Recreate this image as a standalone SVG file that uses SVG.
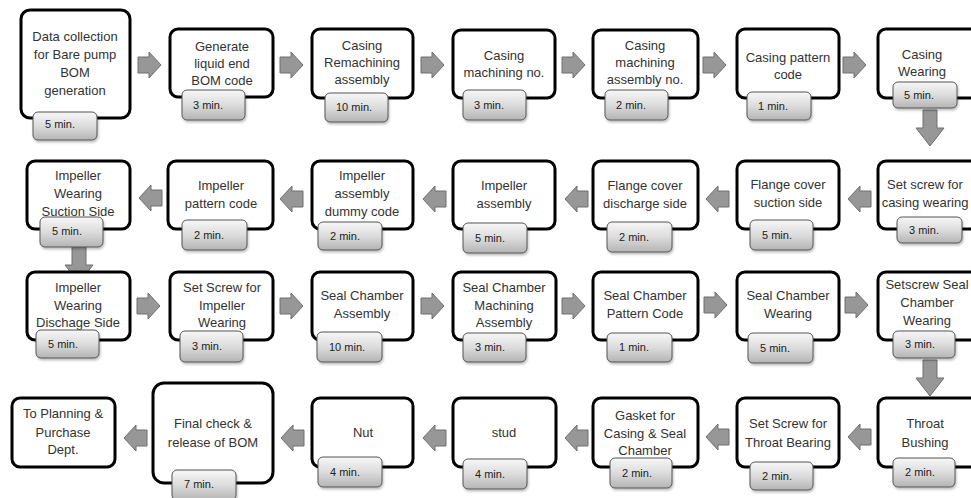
<svg xmlns="http://www.w3.org/2000/svg" xmlns:xlink="http://www.w3.org/1999/xlink" width="971" height="498" viewBox="0 0 971 498">
<defs>
<linearGradient id="tg" x1="0" y1="0" x2="0" y2="1">
<stop offset="0" stop-color="#f7f7f7"/>
<stop offset="0.5" stop-color="#dcdcdc"/>
<stop offset="1" stop-color="#b4b4b4"/>
</linearGradient>
<filter id="sh" x="-10%" y="-10%" width="130%" height="140%">
<feDropShadow dx="1" dy="2" stdDeviation="1.2" flood-color="#000" flood-opacity="0.25"/>
</filter>
<path id="ra" d="M0,-8 H11 V-13 L23,0 L11,13 V8 H0 Z"/>
<path id="la" d="M23,-8 H12 V-13 L0,0 L12,13 V8 H23 Z"/>
<path id="da" d="M-7,0 H7 V18 H14 L0,36 L-14,18 H-7 Z"/>
</defs>
<style>
.box{fill:#fff;stroke:#000;stroke-width:3}
.tag{fill:url(#tg);stroke:#555;stroke-width:1;filter:url(#sh)}
.t{font-family:"Liberation Sans",Arial,sans-serif;font-size:13px;fill:#333;text-anchor:middle}
.m{font-family:"Liberation Sans",Arial,sans-serif;font-size:11px;fill:#222}
.arr{fill:#979797;stroke:#6e6e6e;stroke-width:1}
</style>
<rect width="971" height="498" fill="#fff"/>

<g id="connectors">
<use href="#ra" class="arr" x="138" y="65"/>
<use href="#ra" class="arr" x="280" y="65"/>
<use href="#ra" class="arr" x="421" y="65"/>
<use href="#ra" class="arr" x="562" y="65"/>
<use href="#ra" class="arr" x="703" y="65"/>
<use href="#ra" class="arr" x="843" y="65"/>
<use href="#da" class="arr" x="930" y="110"/>
<use href="#la" class="arr" x="848" y="199"/>
<use href="#la" class="arr" x="706" y="199"/>
<use href="#la" class="arr" x="565" y="199"/>
<use href="#la" class="arr" x="423" y="199"/>
<use href="#la" class="arr" x="280" y="199"/>
<use href="#la" class="arr" x="139" y="198"/>
<use href="#da" class="arr" x="79" y="247"/>
<use href="#ra" class="arr" x="137" y="306"/>
<use href="#ra" class="arr" x="280" y="306"/>
<use href="#ra" class="arr" x="421" y="306"/>
<use href="#ra" class="arr" x="562" y="306"/>
<use href="#ra" class="arr" x="704" y="305"/>
<use href="#ra" class="arr" x="845" y="305"/>
<use href="#da" class="arr" x="930" y="360"/>
<use href="#la" class="arr" x="848" y="437"/>
<use href="#la" class="arr" x="706" y="437"/>
<use href="#la" class="arr" x="565" y="438"/>
<use href="#la" class="arr" x="423" y="438"/>
<use href="#la" class="arr" x="281" y="438"/>
<use href="#la" class="arr" x="124" y="438"/>
</g>

<g id="n1"><rect class="box" x="21" y="10" width="109" height="108" rx="9"/>
<text class="t" x="75" y="41">Data collection</text><text class="t" x="75" y="59">for Bare pump</text><text class="t" x="75" y="77">BOM</text><text class="t" x="75" y="95">generation</text>
<rect class="tag" x="33" y="112" width="64" height="28" rx="5"/><text class="m" x="45" y="128">5 min.</text></g>

<g id="n2"><rect class="box" x="170" y="29" width="103" height="68" rx="8"/>
<text class="t" x="222" y="51">Generate</text><text class="t" x="222" y="68">liquid end</text><text class="t" x="222" y="85">BOM code</text>
<rect class="tag" x="182" y="90" width="63" height="30" rx="5"/><text class="m" x="193" y="109">3 min.</text></g>

<g id="n3"><rect class="box" x="312" y="29" width="101" height="69" rx="8"/>
<text class="t" x="362" y="50">Casing</text><text class="t" x="362" y="67">Remachining</text><text class="t" x="362" y="84">assembly</text>
<rect class="tag" x="325" y="93" width="63" height="29" rx="5"/><text class="m" x="336" y="111">10 min.</text></g>

<g id="n4"><rect class="box" x="453" y="30" width="102" height="68" rx="8"/>
<text class="t" x="504" y="60">Casing</text><text class="t" x="504" y="77">machining no.</text>
<rect class="tag" x="463" y="90" width="63" height="30" rx="5"/><text class="m" x="474" y="109">3 min.</text></g>

<g id="n5"><rect class="box" x="593" y="30" width="105" height="68" rx="8"/>
<text class="t" x="645" y="50">Casing</text><text class="t" x="645" y="67">machining</text><text class="t" x="645" y="84">assembly no.</text>
<rect class="tag" x="605" y="90" width="63" height="30" rx="5"/><text class="m" x="616" y="109">2 min.</text></g>

<g id="n6"><rect class="box" x="737" y="29" width="102" height="69" rx="8"/>
<text class="t" x="788" y="62">Casing pattern</text><text class="t" x="788" y="79">code</text>
<rect class="tag" x="747" y="92" width="64" height="28" rx="5"/><text class="m" x="758" y="110">1 min.</text></g>

<g id="n7"><rect class="box" x="878" y="29" width="100" height="69" rx="8"/>
<text class="t" x="922" y="59">Casing</text><text class="t" x="922" y="76">Wearing</text>
<rect class="tag" x="893" y="82" width="64" height="26" rx="5"/><text class="m" x="904" y="99">5 min.</text></g>

<g id="n8"><rect class="box" x="27" y="161" width="103" height="68" rx="8"/>
<text class="t" x="78" y="180">Impeller</text><text class="t" x="78" y="198">Wearing</text><text class="t" x="78" y="216">Suction Side</text>
<rect class="tag" x="40" y="217" width="63" height="30" rx="5"/><text class="m" x="52" y="235">5 min.</text></g>

<g id="n9"><rect class="box" x="168" y="161" width="105" height="68" rx="8"/>
<text class="t" x="221" y="190">Impeller</text><text class="t" x="221" y="208">pattern code</text>
<rect class="tag" x="182" y="220" width="65" height="30" rx="5"/><text class="m" x="194" y="239">2 min.</text></g>

<g id="n10"><rect class="box" x="312" y="161" width="101" height="68" rx="8"/>
<text class="t" x="362" y="180">Impeller</text><text class="t" x="362" y="198">assembly</text><text class="t" x="362" y="216">dummy code</text>
<rect class="tag" x="318" y="222" width="64" height="28" rx="5"/><text class="m" x="330" y="240">2 min.</text></g>

<g id="n11"><rect class="box" x="453" y="161" width="102" height="68" rx="8"/>
<text class="t" x="504" y="190">Impeller</text><text class="t" x="504" y="208">assembly</text>
<rect class="tag" x="463" y="223" width="64" height="30" rx="5"/><text class="m" x="475" y="242">5 min.</text></g>

<g id="n12"><rect class="box" x="593" y="161" width="105" height="68" rx="8"/>
<text class="t" x="645" y="190">Flange cover</text><text class="t" x="645" y="208">discharge side</text>
<rect class="tag" x="607" y="222" width="65" height="30" rx="5"/><text class="m" x="619" y="241">2 min.</text></g>

<g id="n13"><rect class="box" x="737" y="161" width="102" height="68" rx="8"/>
<text class="t" x="788" y="189">Flange  cover</text><text class="t" x="788" y="207">suction side</text>
<rect class="tag" x="750" y="220" width="63" height="30" rx="5"/><text class="m" x="762" y="239">5 min.</text></g>

<g id="n14"><rect class="box" x="878" y="161" width="100" height="68" rx="8"/>
<text class="t" x="925" y="189">Set screw for</text><text class="t" x="925" y="207">casing wearing</text>
<rect class="tag" x="897" y="217" width="65" height="26" rx="5"/><text class="m" x="909" y="234">3 min.</text></g>

<g id="n15"><rect class="box" x="27" y="272" width="103" height="68" rx="8"/>
<text class="t" x="78" y="292">Impeller</text><text class="t" x="78" y="310">Wearing</text><text class="t" x="78" y="327">Dischage Side</text>
<rect class="tag" x="36" y="330" width="63" height="28" rx="5"/><text class="m" x="48" y="348">5 min.</text></g>

<g id="n16"><rect class="box" x="170" y="272" width="103" height="68" rx="8"/>
<text class="t" x="222" y="292">Set Screw for</text><text class="t" x="222" y="310">Impeller</text><text class="t" x="222" y="327">Wearing</text>
<rect class="tag" x="180" y="331" width="63" height="31" rx="5"/><text class="m" x="192" y="350">3 min.</text></g>

<g id="n17"><rect class="box" x="312" y="272" width="101" height="68" rx="8"/>
<text class="t" x="362" y="300">Seal Chamber</text><text class="t" x="362" y="318">Assembly</text>
<rect class="tag" x="317" y="332" width="65" height="30" rx="5"/><text class="m" x="329" y="351">10 min.</text></g>

<g id="n18"><rect class="box" x="453" y="272" width="103" height="68" rx="8"/>
<text class="t" x="504" y="292">Seal Chamber</text><text class="t" x="504" y="310">Machining</text><text class="t" x="504" y="327">Assembly</text>
<rect class="tag" x="463" y="333" width="63" height="29" rx="5"/><text class="m" x="475" y="351">3 min.</text></g>

<g id="n19"><rect class="box" x="593" y="272" width="105" height="68" rx="8"/>
<text class="t" x="645" y="300">Seal Chamber</text><text class="t" x="645" y="318">Pattern Code</text>
<rect class="tag" x="607" y="333" width="65" height="29" rx="5"/><text class="m" x="619" y="351">1 min.</text></g>

<g id="n20"><rect class="box" x="737" y="272" width="102" height="68" rx="8"/>
<text class="t" x="788" y="300">Seal Chamber</text><text class="t" x="788" y="318">Wearing</text>
<rect class="tag" x="748" y="333" width="65" height="30" rx="5"/><text class="m" x="760" y="352">5 min.</text></g>

<g id="n21"><rect class="box" x="878" y="272" width="100" height="68" rx="8"/>
<text class="t" x="927" y="289">Setscrew Seal</text><text class="t" x="927" y="307">Chamber</text><text class="t" x="927" y="325">Wearing</text>
<rect class="tag" x="893" y="331" width="62" height="27" rx="5"/><text class="m" x="905" y="348">3 min.</text></g>

<g id="n22"><rect class="box" x="878" y="398" width="100" height="69" rx="8"/>
<text class="t" x="925" y="428">Throat</text><text class="t" x="925" y="447">Bushing</text>
<rect class="tag" x="893" y="458" width="62" height="29" rx="5"/><text class="m" x="905" y="476">2 min.</text></g>

<g id="n23"><rect class="box" x="737" y="398" width="102" height="69" rx="8"/>
<text class="t" x="788" y="428">Set Screw for</text><text class="t" x="788" y="447">Throat Bearing</text>
<rect class="tag" x="750" y="462" width="63" height="28" rx="5"/><text class="m" x="762" y="480">2 min.</text></g>

<g id="n24"><rect class="box" x="593" y="398" width="105" height="69" rx="8"/>
<text class="t" x="645" y="420">Gasket for</text><text class="t" x="645" y="438">Casing &amp; Seal</text><text class="t" x="645" y="455">Chamber</text>
<rect class="tag" x="610" y="458" width="62" height="30" rx="5"/><text class="m" x="622" y="477">2 min.</text></g>

<g id="n25"><rect class="box" x="453" y="398" width="103" height="69" rx="8"/>
<text class="t" x="504" y="437">stud</text>
<rect class="tag" x="463" y="459" width="64" height="30" rx="5"/><text class="m" x="475" y="478">4 min.</text></g>

<g id="n26"><rect class="box" x="312" y="398" width="101" height="69" rx="8"/>
<text class="t" x="363" y="437">Nut</text>
<rect class="tag" x="318" y="457" width="64" height="30" rx="5"/><text class="m" x="330" y="476">4 min.</text></g>

<g id="n27"><rect class="box" x="153" y="383" width="120" height="100" rx="11"/>
<text class="t" x="213" y="428">Final check &amp;</text><text class="t" x="213" y="447">release of BOM</text>
<rect class="tag" x="172" y="470" width="64" height="30" rx="5"/><text class="m" x="184" y="488">7 min.</text></g>

<g id="n28"><rect class="box" x="12" y="398" width="103" height="69" rx="8"/>
<text class="t" x="63" y="418">To Planning &amp;</text><text class="t" x="63" y="437">Purchase</text><text class="t" x="63" y="454">Dept.</text></g>
</svg>
